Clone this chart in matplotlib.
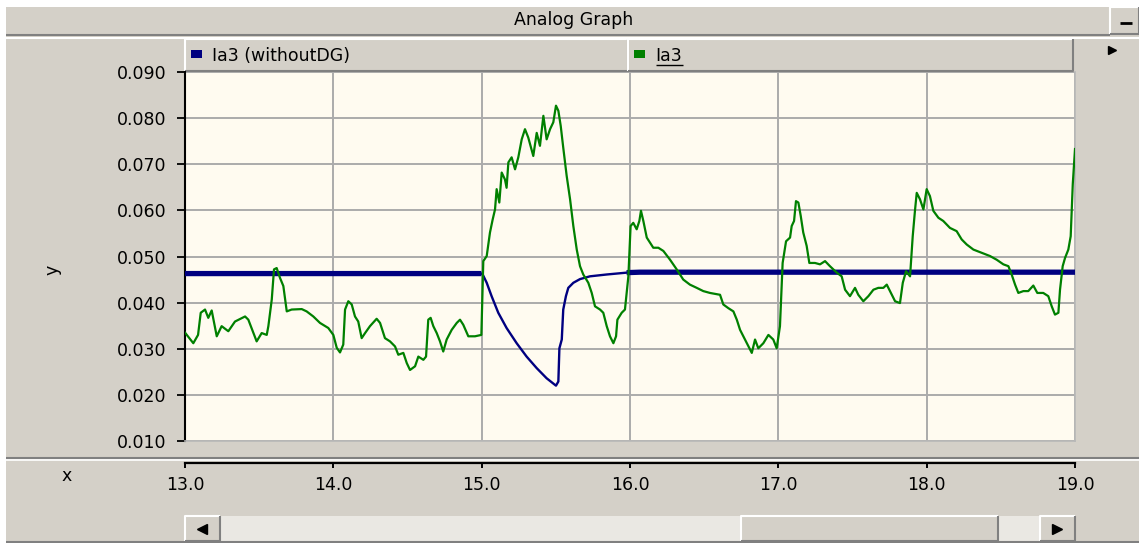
import numpy as np
import matplotlib.pyplot as plt
from matplotlib.patches import Rectangle

W, H = 1139, 543
FACE = '#D4D0C8'
CREAM = '#FFFBF0'
DARK = '#808080'

# Ia3 measured with the DG connected
t_dg = [13.000, 13.056, 13.088, 13.106, 13.135, 13.157, 13.180, 13.214, 13.247, 13.292,
        13.337, 13.405, 13.427, 13.483, 13.517, 13.551, 13.562, 13.585, 13.600, 13.618,
        13.640, 13.663, 13.686, 13.719, 13.787, 13.820, 13.865, 13.910, 13.966, 14.000,
        14.023, 14.045, 14.067, 14.079, 14.101, 14.124, 14.146, 14.168, 14.191, 14.214,
        14.247, 14.292, 14.315, 14.348, 14.382, 14.416, 14.438, 14.472, 14.495, 14.517,
        14.551, 14.573, 14.607, 14.625, 14.640, 14.656, 14.674, 14.697, 14.719, 14.741,
        14.764, 14.798, 14.832, 14.854, 14.876, 14.910, 14.955, 14.998, 15.011, 15.034,
        15.056, 15.074, 15.090, 15.101, 15.119, 15.135, 15.157, 15.168, 15.180, 15.202,
        15.225, 15.247, 15.270, 15.292, 15.314, 15.348, 15.371, 15.393, 15.416, 15.438,
        15.461, 15.483, 15.501, 15.517, 15.533, 15.550, 15.573, 15.596, 15.618, 15.641,
        15.663, 15.685, 15.719, 15.742, 15.764, 15.798, 15.820, 15.843, 15.865, 15.888,
        15.906, 15.915, 15.944, 15.966, 15.989, 16.004, 16.022, 16.045, 16.063, 16.074,
        16.090, 16.113, 16.135, 16.157, 16.191, 16.225, 16.270, 16.315, 16.359, 16.404,
        16.450, 16.494, 16.539, 16.607, 16.629, 16.663, 16.697, 16.720, 16.742, 16.775,
        16.798, 16.821, 16.843, 16.865, 16.899, 16.933, 16.966, 16.989, 17.011, 17.029,
        17.052, 17.079, 17.090, 17.106, 17.119, 17.135, 17.151, 17.168, 17.191, 17.209,
        17.247, 17.281, 17.315, 17.348, 17.394, 17.427, 17.450, 17.483, 17.517, 17.539,
        17.573, 17.607, 17.641, 17.674, 17.708, 17.731, 17.753, 17.787, 17.820, 17.839,
        17.861, 17.888, 17.906, 17.921, 17.933, 17.955, 17.978, 18.000, 18.022, 18.045,
        18.079, 18.112, 18.157, 18.202, 18.236, 18.270, 18.315, 18.371, 18.427, 18.472,
        18.517, 18.551, 18.573, 18.596, 18.618, 18.652, 18.685, 18.719, 18.746, 18.786,
        18.820, 18.843, 18.865, 18.888, 18.899, 18.917, 18.933, 18.955, 18.971, 18.985,
        19.000]
ia3_dg = [0.0335, 0.0312, 0.0330, 0.0378, 0.0385, 0.0367, 0.0383, 0.0327, 0.0349, 0.0338,
          0.0359, 0.0370, 0.0363, 0.0316, 0.0334, 0.0330, 0.0349, 0.0407, 0.0472, 0.0475,
          0.0454, 0.0436, 0.0381, 0.0385, 0.0386, 0.0381, 0.0370, 0.0356, 0.0345, 0.0330,
          0.0302, 0.0292, 0.0309, 0.0385, 0.0403, 0.0396, 0.0370, 0.0359, 0.0323, 0.0334,
          0.0349, 0.0365, 0.0356, 0.0323, 0.0316, 0.0305, 0.0287, 0.0291, 0.0269, 0.0254,
          0.0262, 0.0283, 0.0276, 0.0283, 0.0363, 0.0367, 0.0349, 0.0334, 0.0316, 0.0294,
          0.0320, 0.0341, 0.0356, 0.0363, 0.0352, 0.0327, 0.0327, 0.0330, 0.0490, 0.0501,
          0.0552, 0.0580, 0.0602, 0.0646, 0.0617, 0.0682, 0.0667, 0.0649, 0.0704, 0.0715,
          0.0689, 0.0715, 0.0754, 0.0776, 0.0758, 0.0718, 0.0768, 0.0740, 0.0805, 0.0754,
          0.0776, 0.0791, 0.0827, 0.0816, 0.0783, 0.0736, 0.0675, 0.0624, 0.0566, 0.0515,
          0.0479, 0.0461, 0.0443, 0.0421, 0.0392, 0.0385, 0.0378, 0.0349, 0.0327, 0.0312,
          0.0327, 0.0363, 0.0378, 0.0385, 0.0457, 0.0566, 0.0573, 0.0559, 0.0577, 0.0599,
          0.0577, 0.0541, 0.0530, 0.0519, 0.0519, 0.0512, 0.0493, 0.0472, 0.0450, 0.0439,
          0.0432, 0.0425, 0.0421, 0.0417, 0.0396, 0.0388, 0.0381, 0.0363, 0.0341, 0.0320,
          0.0305, 0.0291, 0.0320, 0.0301, 0.0312, 0.0330, 0.0320, 0.0301, 0.0349, 0.0486,
          0.0533, 0.0541, 0.0566, 0.0577, 0.0620, 0.0617, 0.0588, 0.0552, 0.0523, 0.0486,
          0.0486, 0.0483, 0.0490, 0.0479, 0.0465, 0.0457, 0.0428, 0.0414, 0.0432, 0.0417,
          0.0403, 0.0414, 0.0428, 0.0432, 0.0432, 0.0439, 0.0425, 0.0403, 0.0399, 0.0443,
          0.0468, 0.0457, 0.0544, 0.0599, 0.0638, 0.0624, 0.0602, 0.0646, 0.0631, 0.0599,
          0.0584, 0.0577, 0.0562, 0.0555, 0.0537, 0.0526, 0.0515, 0.0508, 0.0501, 0.0493,
          0.0483, 0.0479, 0.0461, 0.0439, 0.0421, 0.0425, 0.0425, 0.0437, 0.0421, 0.0421,
          0.0414, 0.0392, 0.0374, 0.0378, 0.0428, 0.0479, 0.0497, 0.0515, 0.0544, 0.0657,
          0.0733]

# Ia3 for the case without DG
t_nodg = [13.000, 14.998, 15.007, 15.034, 15.067, 15.112, 15.168, 15.236, 15.303, 15.371,
          15.438, 15.501, 15.517, 15.524, 15.540, 15.550, 15.568, 15.584, 15.618, 15.663,
          15.730, 15.843, 15.977, 16.067, 19.000]
ia3_nodg = [0.0463, 0.0463, 0.0461, 0.0443, 0.0414, 0.0378, 0.0345, 0.0312, 0.0283, 0.0258,
            0.0236, 0.0220, 0.0229, 0.0301, 0.0320, 0.0385, 0.0414, 0.0432, 0.0443, 0.0451,
            0.0457, 0.0461, 0.0465, 0.0466, 0.0466]

yticks = [0.010, 0.020, 0.030, 0.040, 0.050, 0.060, 0.070, 0.080, 0.090]
xticks = [13.0, 14.0, 15.0, 16.0, 17.0, 18.0, 19.0]
names = ['Ia3 (withoutDG)', 'Ia3']
colors = ['#000080', '#008000']

FS = 12.5

fig = plt.figure(figsize=(W / 100, H / 100), dpi=100)
fig.patch.set_facecolor('white')

# window chrome drawn in pixel coordinates
bg = fig.add_axes([0, 0, 1, 1])
bg.set_xlim(0, W)
bg.set_ylim(H, 0)
bg.axis('off')


def hline(y, x0, x1, c, lw=1.2):
    bg.plot([x0, x1], [y, y], color=c, lw=lw, solid_capstyle='butt')


def box(x0, y0, x1, y1, fc=FACE):
    bg.add_patch(Rectangle((x0, y0), x1 - x0, y1 - y0, facecolor=fc, edgecolor='none'))
    bg.plot([x0, x0, x1], [y1, y0, y0], color='white', lw=1.5, solid_capstyle='butt')
    bg.plot([x0, x1, x1], [y1, y1, y0], color=DARK, lw=1.5, solid_capstyle='butt')


bg.add_patch(Rectangle((6, 7), W - 6, 534, facecolor=FACE, edgecolor='none'))

# title bar
hline(34.5, 6, 1110, DARK, 1.5)
hline(37.5, 6, 1139, 'white', 1.5)
bg.text(574, 20, 'Analog Graph', fontsize=FS, ha='center', va='center')
box(1110, 7, 1139, 34)
hline(22.5, 1120, 1132, 'black', 2)

# legend tabs
tabs = [(185, 628), (628, 1073)]
for (x0, x1), name, c in zip(tabs, names, colors):
    box(x0, 39, x1, 71)
    bg.add_patch(Rectangle((x0 + 6, 50), 11, 8, facecolor=c, edgecolor='none'))
    bg.text(x0 + 27, 56, name, fontsize=FS, ha='left', va='center')
hline(65, 656, 683, 'black', 1)
bg.plot([1112], [50], marker='>', ms=6, color='black')

# axis titles
bg.text(52, 270, 'y', fontsize=FS, rotation=90, ha='center', va='center')
bg.text(67, 476, 'x', fontsize=FS, ha='center', va='center')

# separator above the time axis
hline(457.5, 6, 1139, DARK, 1.5)
hline(460, 6, 1139, 'white', 1.2)

# scrollbar
bg.add_patch(Rectangle((185, 516), 890, 25, facecolor='#EAE8E3', edgecolor='none'))
box(185, 516, 220, 541)
bg.plot([202], [528.5], marker='<', ms=7, color='black')
box(741, 516, 998, 541)
box(1040, 516, 1075, 541)
bg.plot([1057], [528.5], marker='>', ms=7, color='black')
hline(541.5, 6, 1139, DARK, 1.5)

# plot area
ax = fig.add_axes([185 / W, 1 - 441 / H, 890 / W, 369 / H])
ax.set_facecolor(CREAM)
ax.set_xlim(13, 19)
ax.set_ylim(0.010, 0.090)
ax.set_xticks(xticks)
ax.set_yticks(yticks)
ax.set_yticklabels(['%.3f' % v for v in yticks])
ax.tick_params(axis='x', length=0, labelbottom=False)
ax.tick_params(axis='y', direction='out', length=6, width=1.3, pad=7.5, labelsize=FS)
ax.grid(True, color='#ABABAB', lw=1.4)
ax.set_axisbelow(True)
ax.spines['top'].set_visible(False)
ax.spines['left'].set_color('black')
ax.spines['left'].set_linewidth(1.5)
for s in ('right', 'bottom'):
    ax.spines[s].set_color('#B8B8B8')
    ax.spines[s].set_linewidth(1.2)

tn = np.array(t_nodg)
yn = np.array(ia3_nodg)
ax.plot(tn, yn, color=colors[0], lw=1.7, zorder=3)
steady = (tn <= 15.0) | (tn >= 15.97)
ax.plot(np.where(steady, tn, np.nan), yn, color=colors[0], lw=3.8, zorder=3,
        solid_capstyle='butt')
ax.plot(t_dg, ia3_dg, color=colors[1], lw=1.6, zorder=4)

# time axis below the plot
axx = fig.add_axes([185 / W, 1 - 462.5 / H, 890 / W, 0.0005])
axx.set_facecolor('none')
axx.set_xlim(13, 19)
axx.set_xticks(xticks)
axx.set_xticklabels(['%.1f' % v for v in xticks])
axx.set_yticks([])
for s in ('top', 'left', 'right'):
    axx.spines[s].set_visible(False)
axx.spines['bottom'].set_linewidth(1.6)
axx.tick_params(axis='x', direction='out', length=3.5, width=1.4, pad=6.5, labelsize=FS)

fig.savefig('out.png', dpi=100)
